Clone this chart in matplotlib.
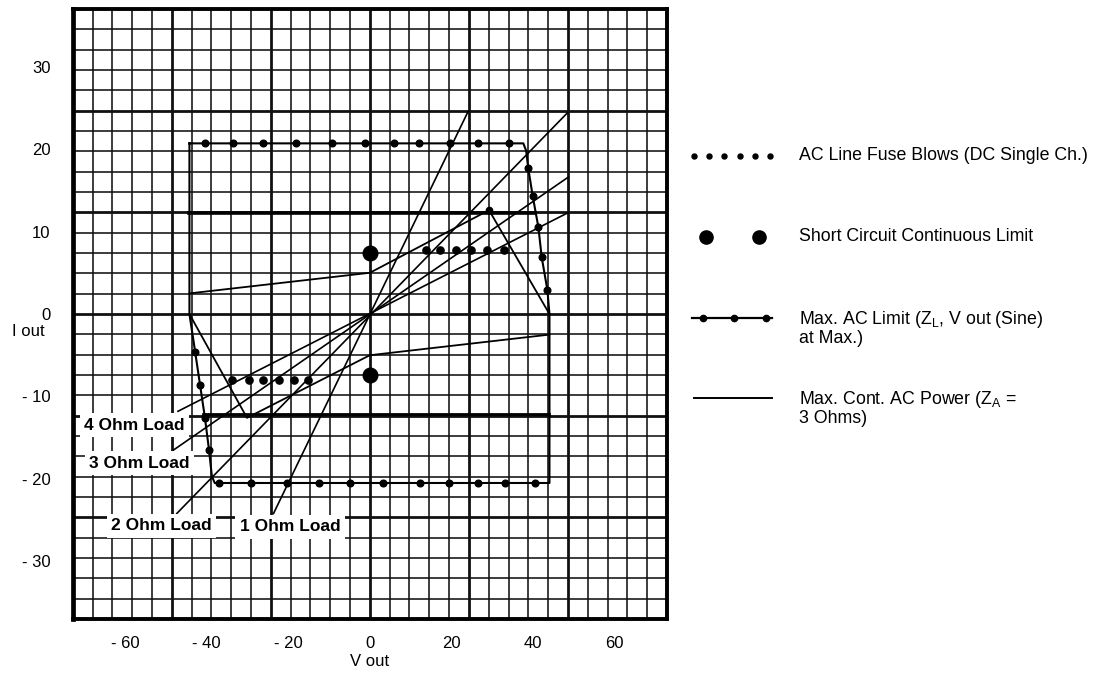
import numpy as np
import matplotlib
matplotlib.use('Agg')
import matplotlib.pyplot as plt

plt.rcParams['font.family'] = ['Liberation Sans', 'DejaVu Sans']

# ---------------- data ----------------
x_lim = (-72.8, 72.8)
y_lim = (-37.0, 37.0)
x_ticks = [-60, -40, -20, 0, 20, 40, 60]
x_tick_labels = ['- 60', '- 40', '- 20', '0', '20', '40', '60']
y_ticks = [30, 20, 10, 0, -10, -20, -30]
y_tick_labels = ['30', '20', '10', '0', '- 10', '- 20', '- 30']

# load lines through the origin (end points)
load_names = ['1 Ohm Load', '2 Ohm Load', '3 Ohm Load', '4 Ohm Load']
load_v_neg = [-23.6, -47.3, -48.1, -47.0]
load_i_neg = [-24.2, -24.2, -16.5, -11.8]
load_v_pos = [24.1, 48.4, 48.6, 48.6]
load_i_pos = [24.6, 24.4, 16.6, 12.3]
load_label_x = [-19.6, -51.0, -56.4, -57.6]
load_label_y = [-25.8, -25.7, -18.1, -13.5]

# Max. AC limit outline
max_ac_x = [-44.2, 37.6, 38.3, 38.8, 39.9, 41.3, 42.1, 43.5, 44.0, 44.0,
            -38.0, -38.7, -39.4, -40.4, -41.6, -42.8, -44.2, -44.2]
max_ac_y = [20.7, 20.7, 19.8, 17.7, 14.3, 10.5, 6.9, 2.9, 0.0, -20.5,
            -20.5, -19.7, -16.5, -12.6, -8.6, -4.6, 0.0, 20.7]
max_ac_dot_x = [-40.5, -33.5, -26.2, -18.2, -9.3, -1.1, 5.9, 12.0, 19.7, 26.4, 34.1,
                38.8, 39.9, 41.3, 42.1, 43.5,
                -37.0, -29.2, -20.4, -12.5, -4.9, 3.2, 12.4, 19.4, 26.6, 33.0, 40.4,
                -39.4, -40.4, -41.6, -42.8]
max_ac_dot_y = [20.7, 20.7, 20.7, 20.7, 20.7, 20.7, 20.7, 20.7, 20.7, 20.7, 20.7,
                17.7, 14.3, 10.5, 6.9, 2.9,
                -20.5, -20.5, -20.5, -20.5, -20.5, -20.5, -20.5, -20.5, -20.5, -20.5, -20.5,
                -16.5, -12.6, -8.6, -4.6]

# AC line fuse blows (DC single ch.)
fuse_x = [13.7, 17.3, 21.1, 24.8, 28.6, 32.8,
          -33.7, -29.7, -26.1, -22.2, -18.7, -15.2]
fuse_y = [7.8, 7.8, 7.8, 7.8, 7.8, 7.8,
          -8.0, -8.0, -8.0, -8.0, -8.0, -8.0]

# Short circuit continuous limit
sc_x = [0.0, 0.0]
sc_y = [7.4, -7.4]

# Max. cont. AC power
pwr_upper_x = [-44.2, 0.0, 29.2, 44.0]
pwr_upper_y = [2.5, 5.0, 12.6, 0.0]
pwr_lower_x = [44.0, 0.0, -30.1, -44.2]
pwr_lower_y = [-2.5, -5.0, -12.6, 0.0]
pwr_top_x = [-44.2, 40.5]
pwr_top_y = [12.2, 12.2]
pwr_bot_x = [-40.8, 44.0]
pwr_bot_y = [-12.1, -12.1]
pwr_peak_x = [29.2]
pwr_peak_y = [12.6]

legend_labels = ['AC Line Fuse Blows (DC Single Ch.)',
                 'Short Circuit Continuous Limit',
                 'Max. AC Limit (Z$_\\mathregular{L}$, V out (Sine)\nat Max.)',
                 'Max. Cont. AC Power (Z$_\\mathregular{A}$ =\n3 Ohms)']

# ---------------- figure ----------------
W, H = 1102, 675
fig = plt.figure(figsize=(W / 100, H / 100), dpi=100)
fig.patch.set_facecolor('white')
ax = fig.add_axes([72.7 / W, 1 - 619 / H, (667 - 72.7) / W, 610 / H])
ax.set_xlim(*x_lim)
ax.set_ylim(*y_lim)

# graph-paper grid
gx = np.linspace(x_lim[0], x_lim[1], 31)
gy = np.linspace(y_lim[0], y_lim[1], 31)
for i, v in enumerate(gx[1:-1], start=1):
    ax.axvline(v, color='#111111', lw=2.0 if i % 5 == 0 else 1.15, zorder=1)
for i, v in enumerate(gy[1:-1], start=1):
    ax.axhline(v, color='#111111', lw=2.0 if i % 5 == 0 else 1.15, zorder=1)

for s in ax.spines.values():
    s.set_linewidth(2.8)
    s.set_color('black')
ax.spines['left'].set_linewidth(3.4)

ax.set_xticks(x_ticks)
ax.set_xticklabels(x_tick_labels)
ax.set_yticks(y_ticks)
ax.set_yticklabels(y_tick_labels)
ax.tick_params(length=0, labelsize=12)
ax.tick_params(axis='x', pad=12)
ax.tick_params(axis='y', pad=16)

# load lines
for xn, yn, xp, yp in zip(load_v_neg, load_i_neg, load_v_pos, load_i_pos):
    ax.plot([xn, xp], [yn, yp], color='black', lw=1.2, zorder=3)
for name, lx, ly in zip(load_names, load_label_x, load_label_y):
    ax.text(lx, ly, name, fontsize=12.5, fontweight='bold', ha='center', va='center',
            zorder=6, bbox=dict(boxstyle='square,pad=0.25', fc='white', ec='none'))

# max AC limit
ax.plot(max_ac_x, max_ac_y, color='black', lw=1.5, zorder=3, solid_joinstyle='round')
ax.plot(max_ac_dot_x, max_ac_dot_y, 'o', color='black', ms=4.8, zorder=4)

# fuse blows
ax.plot(fuse_x, fuse_y, 'o', color='black', ms=5.2, ls='none', zorder=4)

# short circuit
ax.plot(sc_x, sc_y, 'o', color='black', ms=10.5, ls='none', zorder=4)

# max cont AC power
ax.plot(pwr_upper_x, pwr_upper_y, color='black', lw=1.3, zorder=3)
ax.plot(pwr_lower_x, pwr_lower_y, color='black', lw=1.3, zorder=3)
ax.plot(pwr_top_x, pwr_top_y, color='black', lw=2.6, zorder=3)
ax.plot(pwr_bot_x, pwr_bot_y, color='black', lw=2.0, zorder=3)
ax.plot(pwr_peak_x, pwr_peak_y, 'o', color='black', ms=4.5, zorder=4)

# axis titles
fig.text(370 / W, 1 - 662 / H, 'V out', fontsize=12, ha='center', va='center')
fig.text(45 / W, 1 - 331 / H, 'I out', fontsize=12, ha='right', va='center')

# ---------------- legend (drawn manually) ----------------
lax = fig.add_axes([0, 0, 1, 1], facecolor='none')
lax.set_xlim(0, W)
lax.set_ylim(H, 0)
lax.axis('off')
row_y = [156, 237, 318, 398]
lax.plot(np.linspace(694, 770, 6), [row_y[0]] * 6, 'o', color='black', ms=3.6)
lax.plot([706, 759], [row_y[1]] * 2, 'o', color='black', ms=9.5)
lax.plot([692, 772], [row_y[2]] * 2, color='black', lw=1.6)
lax.plot([703, 734, 766], [row_y[2]] * 3, 'o', color='black', ms=4.5)
lax.plot([694, 772], [row_y[3]] * 2, color='black', lw=1.4)
for lab, yy in zip(legend_labels, row_y):
    lax.text(799, yy - 9, lab, fontsize=12.8, ha='left', va='top', linespacing=1.0)

fig.savefig('out.png', dpi=100, facecolor='white')
